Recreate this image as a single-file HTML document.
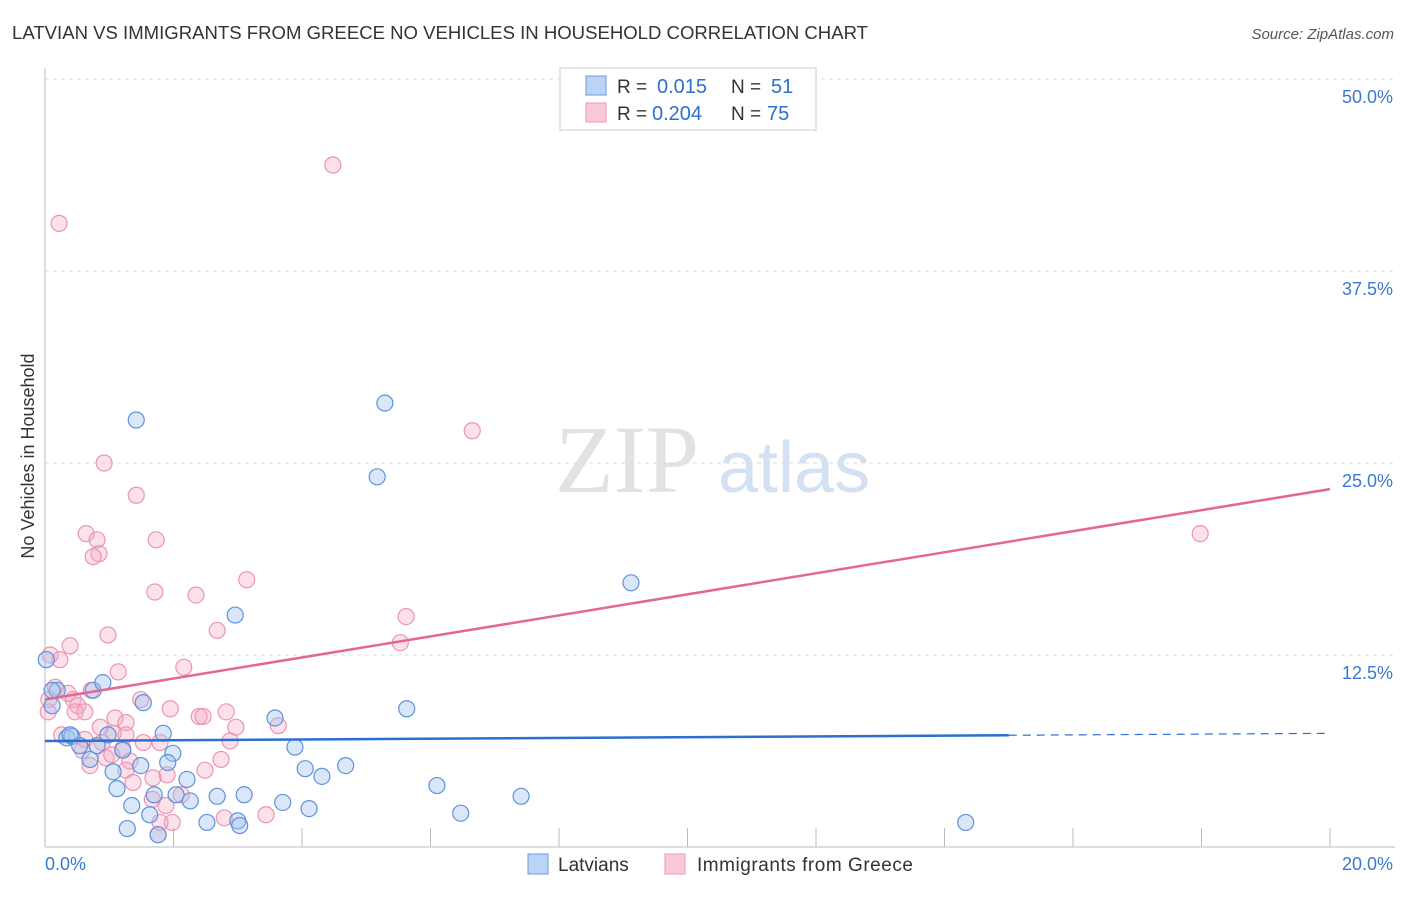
<!DOCTYPE html>
<html><head><meta charset="utf-8"><style>
body{margin:0;background:#fff;font-family:"Liberation Sans",sans-serif}
</style></head><body>
<svg id="c" width="1406" height="892" xmlns="http://www.w3.org/2000/svg">
<text x="12" y="39" font-size="18" fill="#333" textLength="856" lengthAdjust="spacingAndGlyphs">LATVIAN VS IMMIGRANTS FROM GREECE NO VEHICLES IN HOUSEHOLD CORRELATION CHART</text>
<text x="1394" y="39" font-size="15" fill="#555" font-style="italic" text-anchor="end">Source: ZipAtlas.com</text>
<text x="34" y="456" font-size="18" fill="#333" transform="rotate(-90 34 456)" text-anchor="middle">No Vehicles in Household</text>
<text x="555" y="492" font-size="96" fill="#e2e2e2" font-family="Liberation Serif,serif">ZIP</text>
<text x="718" y="492" font-size="72" fill="#d3e1f3">atlas</text>
<g id="grid"></g><g id="pts"></g><g id="lines"></g>
<g>
<rect x="560" y="68" width="256" height="62" fill="#fff" stroke="#ccc"/>
<rect x="586" y="76" width="20" height="19" fill="#bcd3f5" stroke="#6b9be0"/>
<rect x="586" y="103" width="20" height="19" fill="#fac8d6" stroke="#ec9ab4"/>
<text x="617" y="93" font-size="19" fill="#333">R =</text><text x="657" y="93" font-size="20" fill="#2d6fd1">0.015</text>
<text x="731" y="93" font-size="19" fill="#333">N =</text><text x="771" y="93" font-size="20" fill="#2d6fd1">51</text>
<text x="617" y="120" font-size="19" fill="#333">R =</text><text x="652" y="120" font-size="20" fill="#2d6fd1">0.204</text>
<text x="731" y="120" font-size="19" fill="#333">N =</text><text x="767" y="120" font-size="20" fill="#2d6fd1">75</text>
</g>
<g>
<rect x="528" y="854" width="20" height="20" fill="#bcd3f5" stroke="#6b9be0"/>
<text x="558" y="871" font-size="19" fill="#333">Latvians</text>
<rect x="665" y="854" width="20" height="20" fill="#fac8d6" stroke="#ec9ab4"/>
<text x="697" y="871" font-size="19" fill="#333" textLength="216">Immigrants from Greece</text>
</g>
</svg>
<script>
const blueX=[1.42,5.29,5.17,9.12,2.96,0.75,0.90,1.53,0.19,0.11,0.02,3.58,5.63,1.84,0.98,0.34,0.42,0.54,0.81,1.21,1.99,3.89,4.05,4.31,4.68,1.49,1.91,0.70,1.06,2.21,6.10,1.12,1.70,2.04,2.26,2.68,3.10,3.70,4.11,7.41,1.35,1.63,2.52,3.00,3.03,1.28,1.76,6.47,14.33,0.11,0.39];
const blueY=[27.8,28.9,24.1,17.2,15.1,10.2,10.7,9.4,10.2,9.2,12.2,8.4,9.0,7.4,7.3,7.1,7.2,6.6,6.6,6.3,6.1,6.5,5.1,4.6,5.3,5.3,5.5,5.7,4.9,4.4,4.0,3.8,3.4,3.4,3.0,3.3,3.4,2.9,2.5,3.3,2.7,2.1,1.6,1.7,1.4,1.2,0.8,2.2,1.6,10.2,7.3];
const pinkX=[4.48,0.22,6.65,0.92,1.42,0.64,0.81,0.84,0.75,1.73,17.98,3.14,1.71,2.35,5.62,0.98,2.68,5.53,0.39,0.23,0.08,2.16,1.14,0.16,0.36,0.44,0.51,0.72,0.06,1.49,1.95,2.40,2.82,2.97,0.05,0.47,1.09,1.26,3.63,1.26,1.06,1.79,2.88,0.89,0.62,1.53,1.21,0.95,1.32,0.70,1.26,2.74,1.90,1.37,1.67,2.12,1.88,3.44,2.79,1.98,1.79,1.76,0.58,0.86,1.68,2.46,0.26,1.04,0.62,2.49];
const pinkY=[44.4,40.6,27.1,25.0,22.9,20.4,20.0,19.1,18.9,20.0,20.4,17.4,16.6,16.4,15.0,13.8,14.1,13.3,13.1,12.2,12.5,11.7,11.4,10.4,10.0,9.6,9.2,10.2,9.6,9.6,9.0,8.5,8.8,7.8,8.8,8.8,8.4,8.1,7.9,7.3,7.4,6.8,6.9,6.8,7.0,6.8,6.4,5.8,5.6,5.3,5.0,5.7,4.7,4.2,3.1,3.4,2.7,2.1,1.9,1.6,1.6,0.8,6.3,7.8,4.5,8.5,7.3,6.0,8.8,5.0];
const yTicks=[12.5,25,37.5,50];
const yTickLabels=["12.5%","25.0%","37.5%","50.0%"];
const blueTrend=[6.9,7.4];const pinkTrend=[9.6,23.3];
const sx=v=>45+v*64.25, sy=v=>847-v*15.36;
const NS="http://www.w3.org/2000/svg";
function mk(t,a,p){const e=document.createElementNS(NS,t);for(const k in a)e.setAttribute(k,a[k]);p.appendChild(e);return e;}
const grid=document.getElementById('grid');
mk('line',{x1:45,y1:68,x2:45,y2:847,stroke:'#bbb'},grid);
mk('line',{x1:45,y1:847,x2:1395,y2:847,stroke:'#bbb'},grid);
for(let i=1;i<=10;i++){mk('line',{x1:sx(i*2),y1:828,x2:sx(i*2),y2:847,stroke:'#bbb'},grid);}
yTicks.forEach((v,i)=>{mk('line',{x1:45,y1:sy(v),x2:1395,y2:sy(v),stroke:'#ddd','stroke-dasharray':'4,4'},grid);
const t=mk('text',{x:1393,y:sy(v)+24,'font-size':18,fill:'#3a78d6','text-anchor':'end'},grid);t.textContent=yTickLabels[i];

});
const xl=mk('text',{x:45,y:870,'font-size':18,fill:'#3a78d6'},grid);xl.textContent='0.0%';


const xr=mk('text',{x:1393,y:870,'font-size':18,fill:'#3a78d6','text-anchor':'end'},grid);xr.textContent='20.0%';


const pts=document.getElementById('pts');
pinkX.forEach((x,i)=>{const c=mk('circle',{cx:sx(x),cy:sy(pinkY[i]),r:8,fill:'rgba(246,170,195,0.35)',stroke:'#ec94b1','stroke-width':1.2},pts);

});
blueX.forEach((x,i)=>{const c=mk('circle',{cx:sx(x),cy:sy(blueY[i]),r:8,fill:'rgba(160,194,240,0.4)',stroke:'#5d92dc','stroke-width':1.2},pts);

});
const L=document.getElementById('lines');
const bm=blueTrend[0]+(blueTrend[1]-blueTrend[0])*(15/20);
const b1=mk('line',{x1:sx(0),y1:sy(blueTrend[0]),x2:sx(15),y2:sy(bm),stroke:'#2a6fd1','stroke-width':2.5},L);


const b2=mk('line',{x1:sx(15),y1:sy(bm),x2:sx(20),y2:sy(blueTrend[1]),stroke:'#2a6fd1','stroke-width':1.2,'stroke-dasharray':'8,6'},L);


const p1=mk('line',{x1:sx(0),y1:sy(pinkTrend[0]),x2:sx(20),y2:sy(pinkTrend[1]),stroke:'#e2688f','stroke-width':2.5},L);


</script>
</body></html>
